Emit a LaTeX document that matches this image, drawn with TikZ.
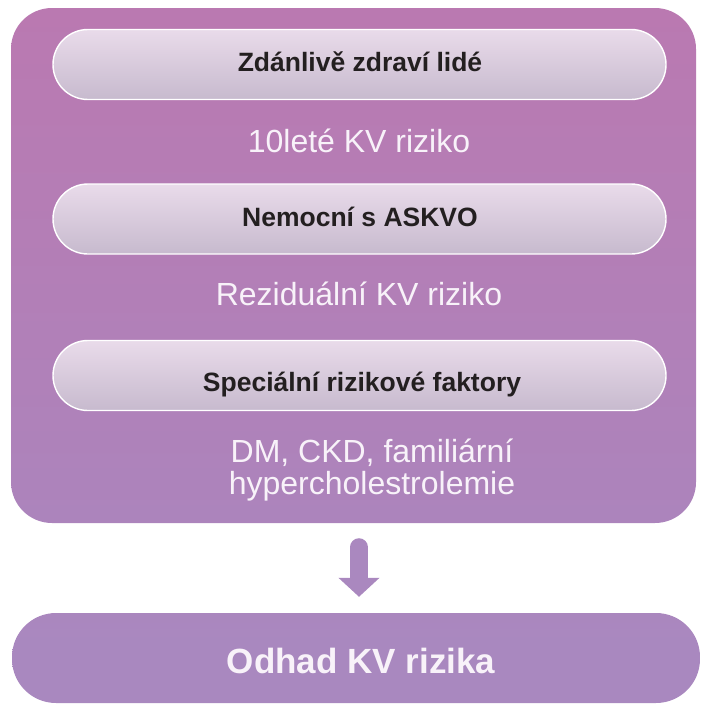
\documentclass[tikz,border=0pt]{standalone}
\usepackage{fontspec}
\setmainfont{Liberation Sans}
\usetikzlibrary{positioning,calc,arrows.meta}
\definecolor{paneltop}{RGB}{186,121,177}
\definecolor{panelbot}{RGB}{172,132,188}
\definecolor{pilltop}{RGB}{233,219,234}
\definecolor{pillbot}{RGB}{199,186,206}
\definecolor{resultcol}{RGB}{169,136,191}
\definecolor{inktext}{RGB}{35,31,32}
\definecolor{softwhite}{RGB}{248,242,249}

\begin{document}
\begin{tikzpicture}[x=1pt,y=-1pt,
	panel/.style={rounded corners=41pt,top color=paneltop,bottom color=panelbot,minimum width=685pt,minimum height=515pt,inner sep=0pt},
	pill/.style={rounded corners=35pt,top color=pilltop,bottom color=pillbot,draw=white,line width=1.4pt,minimum width=613pt,minimum height=70pt,inner sep=0pt},
	pilltext/.style={anchor=base,text=inktext,font=\fontsize{26.5}{30}\selectfont\bfseries},
	risk/.style={anchor=base,text=softwhite,font=\fontsize{32}{32}\selectfont},
	result/.style={rounded corners=44pt,top color=resultcol!96!paneltop,bottom color=resultcol,minimum width=688pt,minimum height=90pt,inner sep=0pt},
	flow/.style={line width=18pt,color=resultcol!97!paneltop,line cap=round,-{Triangle[width=40pt 0 0,length=19pt 0 0]}}]
%		\draw[lightgray,step=50pt] (0,0) grid (700,700);
		\useasboundingbox (0,0) rectangle (701,704);
		\node[panel] (panel) at (353.5,265.5) {};
		\node[pill] (healthy) at (359.5,64.5) {};
		\node[pill] (askvo) at (359.5,219) {};
		\node[pill] (special) at (359.5,375.5) {};
		\node[pilltext] (healthytxt) at (360,71.5) {Zdánlivě zdraví lidé};
		\node[pilltext] (askvotxt) at (360,226) {Nemocní s ASKVO};
		\node[pilltext] (specialtxt) at (362,391) {Speciální rizikové faktory};
		\node[risk] (risk1) at (359,152) {10leté KV riziko};
		\node[risk] (risk2) at (359,305) {Reziduální KV riziko};
		\node[risk] (risk3a) at (372,462) {DM, CKD, familiární};
		\node[risk] (risk3b) at (372,494) {hypercholestrolemie};
		\node[result] (result) at (356,658) {};
		\node[anchor=base,text=softwhite,font=\fontsize{35}{35}\selectfont\bfseries] (resulttxt) at (361,673) {Odhad KV rizika};
		\draw[flow,shorten <=24pt,shorten >=16pt] ([xshift=3pt]panel.south -| result.north) -- ([xshift=3pt]result.north);
	\end{tikzpicture}
\end{document}
